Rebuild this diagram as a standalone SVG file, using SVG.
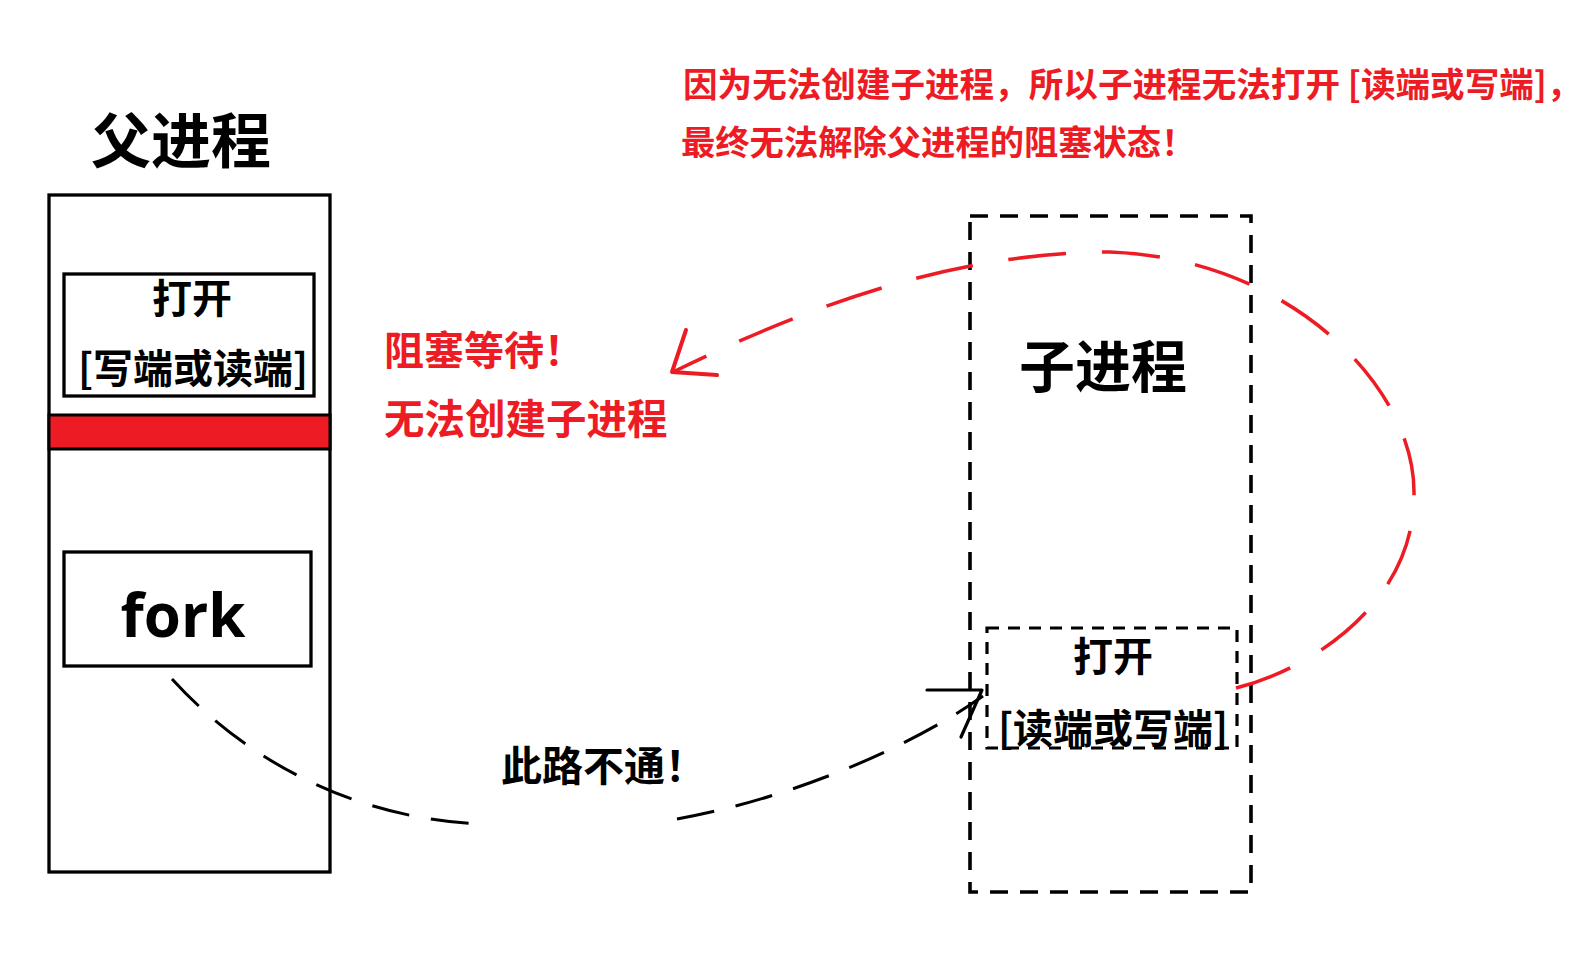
<svg xmlns="http://www.w3.org/2000/svg" width="1584" height="958" viewBox="0 0 1584 958">
<style>
.cjk{font-family:"Noto Sans CJK SC","Noto Sans",sans-serif;font-weight:bold}
.blk{fill:#000}
.red{fill:#ED1C24}
.solid{fill:none;stroke:#000;stroke-width:3.3}
.dashOuter{fill:none;stroke:#000;stroke-width:3.6;stroke-dasharray:18 12}
.dashInner{fill:none;stroke:#000;stroke-width:3.2;stroke-dasharray:12 9}
.conBlack{fill:none;stroke:#000;stroke-width:3;stroke-dasharray:38 22}
.conRed{fill:none;stroke:#ED1C24;stroke-width:3.5;stroke-dasharray:58 36}
.headBlack{fill:none;stroke:#000;stroke-width:3.2;stroke-linecap:round;stroke-linejoin:round}
.headRed{fill:none;stroke:#ED1C24;stroke-width:4;stroke-linecap:round;stroke-linejoin:round}
</style>
<rect x="0" y="0" width="1584" height="958" fill="#fff"/>

<g id="note">
<text class="cjk red" x="683" y="97" font-size="34.6">因为无法创建子进程，所以子进程无法打开 [读端或写端]，</text>
<text class="cjk red" x="681" y="155" font-size="34.3">最终无法解除父进程的阻塞状态！</text>
</g>

<g id="parent">
<text class="cjk blk" x="181" y="163" font-size="60" text-anchor="middle">父进程</text>
<rect class="solid" x="49" y="195" width="281" height="677"/>
<g id="parent-open">
<rect class="solid" x="64" y="274" width="250" height="122"/>
<text class="cjk blk" x="192" y="313" font-size="40" text-anchor="middle">打开</text>
<text class="cjk blk" x="193" y="383" font-size="40" text-anchor="middle">[写端或读端]</text>
</g>
<rect x="49" y="415" width="281" height="34" fill="#ED1C24" stroke="#000" stroke-width="3"/>
<g id="parent-fork">
<rect class="solid" x="64" y="552" width="247" height="114"/>
<text x="183" y="637" font-family="'Open Sans','Liberation Sans',sans-serif" font-weight="bold" font-size="60" text-anchor="middle" fill="#000">fork</text>
</g>
</g>

<g id="blocked-label">
<text class="cjk red" x="384" y="365" font-size="40">阻塞等待！</text>
<text class="cjk red" x="384" y="434" font-size="40.5">无法创建子进程</text>
</g>

<g id="child">
<rect class="dashOuter" x="970" y="216" width="281" height="676"/>
<text class="cjk blk" x="1103" y="387" font-size="56" text-anchor="middle">子进程</text>
<g id="child-open">
<rect class="dashInner" x="987" y="628" width="250" height="120"/>
<text class="cjk blk" x="1113" y="671" font-size="40" text-anchor="middle">打开</text>
<text class="cjk blk" x="1113" y="743" font-size="40" text-anchor="middle">[读端或写端]</text>
</g>
</g>

<g id="connectors">
<path class="conBlack" d="M172,679 C253,768 364,819 480,824"/>
<path class="conBlack" d="M677,819 C789,799 910,748 983,696"/>
<path class="headBlack" d="M927,690 L982,690 L961,737"/>
<path class="conRed" d="M1236,688 C1315,668 1416,600 1414,492 C1414,385 1288,258 1110,252 C950,252 800,310 673,372"/>
<path class="headRed" d="M686,330 L672,372 L717,375"/>
<text class="cjk blk" x="501" y="781" font-size="41">此路不通！</text>
</g>
</svg>
